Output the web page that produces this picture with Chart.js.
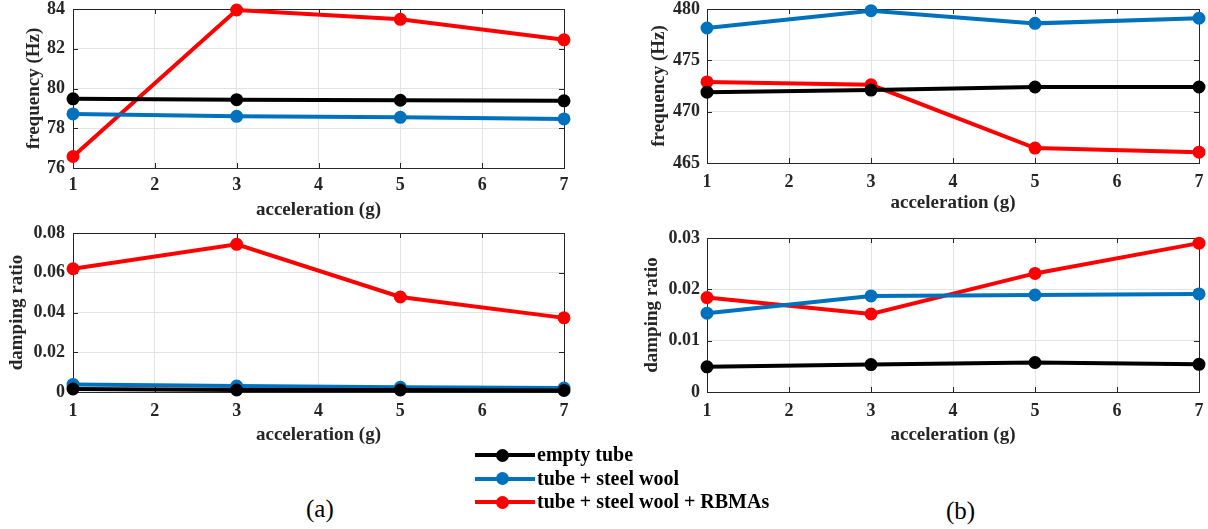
<!DOCTYPE html>
<html>
<head>
<meta charset="utf-8">
<script src="https://cdn.jsdelivr.net/npm/chart.js@4.4.1/dist/chart.umd.min.js"></script>
<style>
body{margin:0;background:#fff;width:1208px;height:529px;position:relative;overflow:hidden;font-family:"Liberation Serif","Times New Roman",serif}
canvas{position:absolute}
#legend{position:absolute;left:475px;top:443px}
.row{position:relative;height:23.5px;line-height:23.5px;font-weight:bold;font-size:20px;color:#000;white-space:nowrap}
.row .ln{position:absolute;left:0;top:10px;width:60px;height:4px}
.row .pt{position:absolute;left:21px;top:5.5px;width:13px;height:13px;border-radius:50%}
.row span{position:absolute;left:62px;top:0}
.lab{position:absolute;font-size:25px;color:#000}
</style>
</head>
<body>
<canvas id="freqA" width="575" height="225" style="left:0;top:0"></canvas>
<canvas id="freqB" width="608" height="225" style="left:600px;top:0"></canvas>
<canvas id="dampA" width="575" height="225" style="left:0;top:225px"></canvas>
<canvas id="dampB" width="608" height="225" style="left:600px;top:225px"></canvas>
<div id="legend"></div>
<div class="lab" style="left:306px;top:495px">(a)</div>
<div class="lab" style="left:946px;top:497px">(b)</div>
<script>

// acceleration levels (g)
const accel=[1,3,5,7]
const seriesNames=["empty tube","tube + steel wool","tube + steel wool + RBMAs"]
const seriesColors=["#000000","#0072BD","#FF0000"]

// (a) frequency (Hz)
const freqA_empty=[79.48,79.44,79.41,79.38]
const freqA_wool=[78.72,78.60,78.55,78.47]
const freqA_rbma=[76.58,83.95,83.48,82.45]

// (b) frequency (Hz)
const freqB_empty=[471.90,472.10,472.40,472.40]
const freqB_wool=[478.15,479.84,478.60,479.10]
const freqB_rbma=[472.90,472.62,466.45,466.05]

// (a) damping ratio
const dampA_empty=[0.0015,0.0010,0.0010,0.0008]
const dampA_wool=[0.0038,0.0030,0.0024,0.0020]
const dampA_rbma=[0.0620,0.0743,0.0478,0.0373]

// (b) damping ratio
const dampB_empty=[0.0049,0.00535,0.00575,0.0054]
const dampB_wool=[0.01535,0.01872,0.0189,0.0191]
const dampB_rbma=[0.0184,0.0152,0.0231,0.0290]

// tick labels
const xTicks=[1,2,3,4,5,6,7]
const yTicksFreqA=[76,78,80,82,84]
const yTicksFreqB=[465,470,475,480]
const yTicksDampA=[0,0.02,0.04,0.06,0.08]
const yTicksDampB=[0,0.01,0.02,0.03]

const fontFam='"Liberation Serif","Times New Roman",serif'
const textColor="#262626"

// MATLAB style box with inward ticks
const boxPlugin={
id:"box",
beforeDatasetsDraw(chart){
const ctx=chart.ctx
const a=chart.chartArea
const sx=chart.scales.x
const sy=chart.scales.y
ctx.save()
ctx.strokeStyle=textColor
ctx.lineWidth=1
ctx.beginPath()
sx.ticks.forEach(t=>{
const px=Math.round(sx.getPixelForValue(t.value))+0.5
ctx.moveTo(px,a.bottom);ctx.lineTo(px,a.bottom-5)
ctx.moveTo(px,a.top);ctx.lineTo(px,a.top+5)
})
sy.ticks.forEach(t=>{
const py=Math.round(sy.getPixelForValue(t.value))+0.5
ctx.moveTo(a.left,py);ctx.lineTo(a.left+5,py)
ctx.moveTo(a.right,py);ctx.lineTo(a.right-5,py)
})
ctx.stroke()
ctx.strokeRect(Math.round(a.left)+0.5,Math.round(a.top)+0.5,Math.round(a.width),Math.round(a.height))
ctx.restore()
}
}

function makeSet(i,values){
return{
label:seriesNames[i],
data:accel.map((x,k)=>({x:x,y:values[k]})),
borderColor:seriesColors[i],
backgroundColor:seriesColors[i],
pointBackgroundColor:seriesColors[i],
borderWidth:4,
pointRadius:5,
pointBorderWidth:3,
clip:false
}
}

function makeChart(id,sets,yTicks,yTitle,o){
const ctx=document.getElementById(id)
return new Chart(ctx,{
type:"line",
data:{datasets:sets},
plugins:[boxPlugin],
options:{
responsive:false,
animation:false,
devicePixelRatio:1,
layout:{padding:{top:o.top,right:o.right,left:0,bottom:0}},
plugins:{legend:{display:false},tooltip:{enabled:false}},
scales:{
x:{
type:"linear",
min:xTicks[0],
max:xTicks[xTicks.length-1],
afterBuildTicks(s){s.ticks=xTicks.map(v=>({value:v}))},
afterFit(s){s.height=o.xh;s.paddingLeft=0;s.paddingRight=0},
grid:{color:"#e3e3e3",drawTicks:false},
border:{display:false},
ticks:{padding:o.xpad,color:textColor,font:{family:fontFam,size:18,weight:"bold",lineHeight:1},callback:v=>String(v)},
title:{display:true,text:"acceleration (g)",color:textColor,font:{family:fontFam,size:19,weight:"bold",lineHeight:1.2},padding:{top:0,bottom:o.xtpad}}
},
y:{
min:yTicks[0],
max:yTicks[yTicks.length-1],
afterBuildTicks(s){s.ticks=yTicks.map(v=>({value:v}))},
afterFit(s){s.width=o.yw;s.paddingTop=0;s.paddingBottom=0},
grid:{color:"#e3e3e3",drawTicks:false},
border:{display:false},
ticks:{padding:o.ypad,color:textColor,font:{family:fontFam,size:18,weight:"bold",lineHeight:1},callback:v=>String(+v.toFixed(3))},
title:{display:true,text:yTitle,color:textColor,font:{family:fontFam,size:19,weight:"bold",lineHeight:1.2},padding:{top:o.ytpad,bottom:0}}
}
}
}
})
}

makeChart("freqA",[makeSet(0,freqA_empty),makeSet(1,freqA_wool),makeSet(2,freqA_rbma)],yTicksFreqA,"frequency (Hz)",
{top:9,right:11,xh:57,yw:73,xpad:8,ypad:8,xtpad:4,ytpad:23})
makeChart("freqB",[makeSet(0,freqB_empty),makeSet(1,freqB_wool),makeSet(2,freqB_rbma)],yTicksFreqB,"frequency (Hz)",
{top:9,right:9,xh:62,yw:107,xpad:10,ypad:7,xtpad:11,ytpad:48})
makeChart("dampA",[makeSet(0,dampA_empty),makeSet(1,dampA_wool),makeSet(2,dampA_rbma)],yTicksDampA,"damping ratio",
{top:7,right:11,xh:58,yw:73,xpad:10,ypad:8,xtpad:4,ytpad:6})
makeChart("dampB",[makeSet(0,dampB_empty),makeSet(1,dampB_wool),makeSet(2,dampB_rbma)],yTicksDampB,"damping ratio",
{top:13,right:9,xh:58,yw:107,xpad:10,ypad:7,xtpad:4,ytpad:41})

// legend
let html=""
seriesNames.forEach((name,i)=>{
html+=`<div class="row"><div class="ln" style="background:${seriesColors[i]}"></div><div class="pt" style="background:${seriesColors[i]}"></div><span>${name}</span></div>`
})
document.getElementById("legend").innerHTML=html

</script>
</body>
</html>
